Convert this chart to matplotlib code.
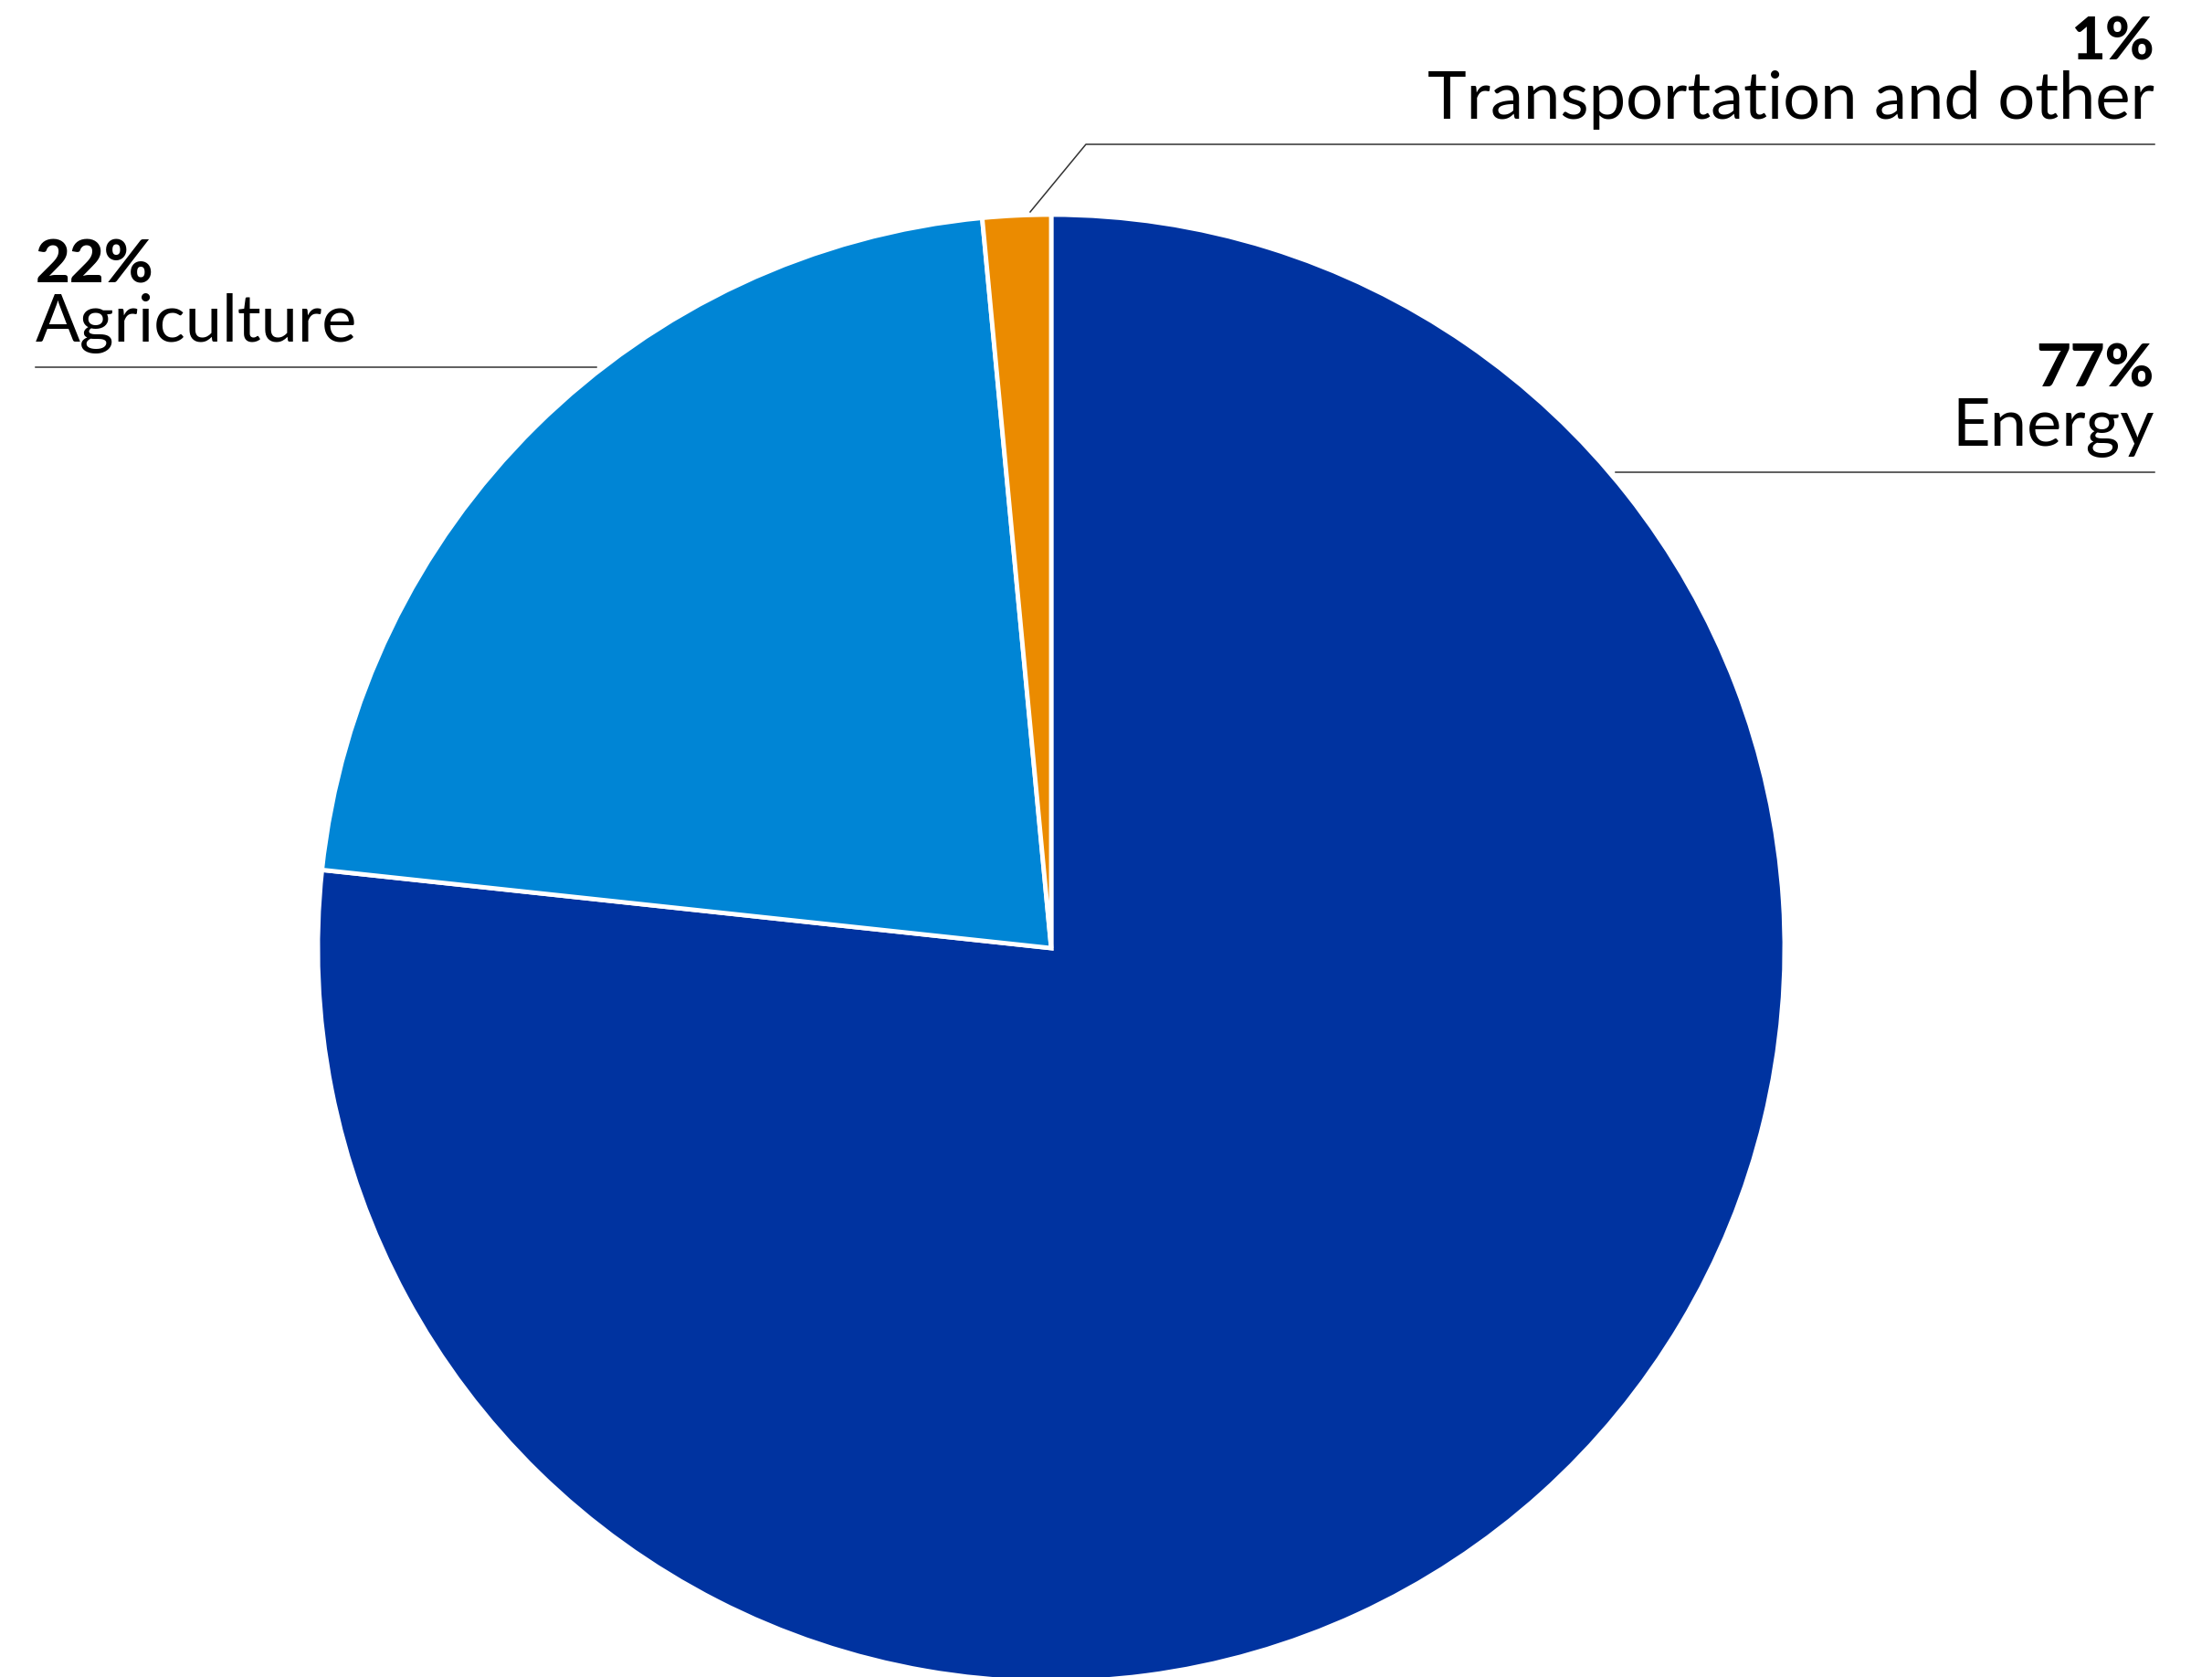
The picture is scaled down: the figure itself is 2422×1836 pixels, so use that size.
import numpy as np
import matplotlib
matplotlib.use('Agg')
import matplotlib.pyplot as plt

# data
labels = ['Energy', 'Agriculture', 'Transportation and other']
shares = [76.7, 21.8, 1.5]
pct_text = ['77%', '22%', '1%']
colors = ['#0033A0', '#0085D5', '#EB8B00']

W, H = 2422, 1836
fig = plt.figure(figsize=(W / 100, H / 100), dpi=100)
ax = fig.add_axes([0, 0, 1, 1])

ax.pie(shares, colors=colors, startangle=90, counterclock=False,
       center=(1151, H - 1038), radius=803,
       wedgeprops=dict(edgecolor='white', linewidth=3.5))
ax.set_xlim(0, W)
ax.set_ylim(0, H)
ax.set_aspect('equal')
ax.axis('off')

fam = ['Lato', 'DejaVu Sans']
lc = '#333333'
lw = 1.1
pfs = 47   # percent size
lfs = 52   # label size

# Transportation and other
ax.text(2359, H - 65, pct_text[2], ha='right', va='baseline', fontsize=pfs,
        fontweight='black', family=fam)
ax.text(2359, H - 130, labels[2], ha='right', va='baseline', fontsize=lfs,
        family=fam)
ax.plot([1128, 1189, 2359], [H - 232, H - 158, H - 158], color=lc, lw=lw)

# Agriculture
ax.text(39, H - 310, pct_text[1], ha='left', va='baseline', fontsize=pfs,
        fontweight='black', family=fam)
ax.text(39, H - 374, labels[1], ha='left', va='baseline', fontsize=lfs,
        family=fam)
ax.plot([39, 653], [H - 402, H - 402], color=lc, lw=lw)

# Energy
ax.text(2359, H - 423, pct_text[0], ha='right', va='baseline', fontsize=pfs,
        fontweight='black', family=fam)
ax.text(2359, H - 488, labels[0], ha='right', va='baseline', fontsize=lfs,
        family=fam)
ax.plot([1769, 2359], [H - 517, H - 517], color=lc, lw=lw)

fig.savefig('out.png', dpi=100)
plt.close()
